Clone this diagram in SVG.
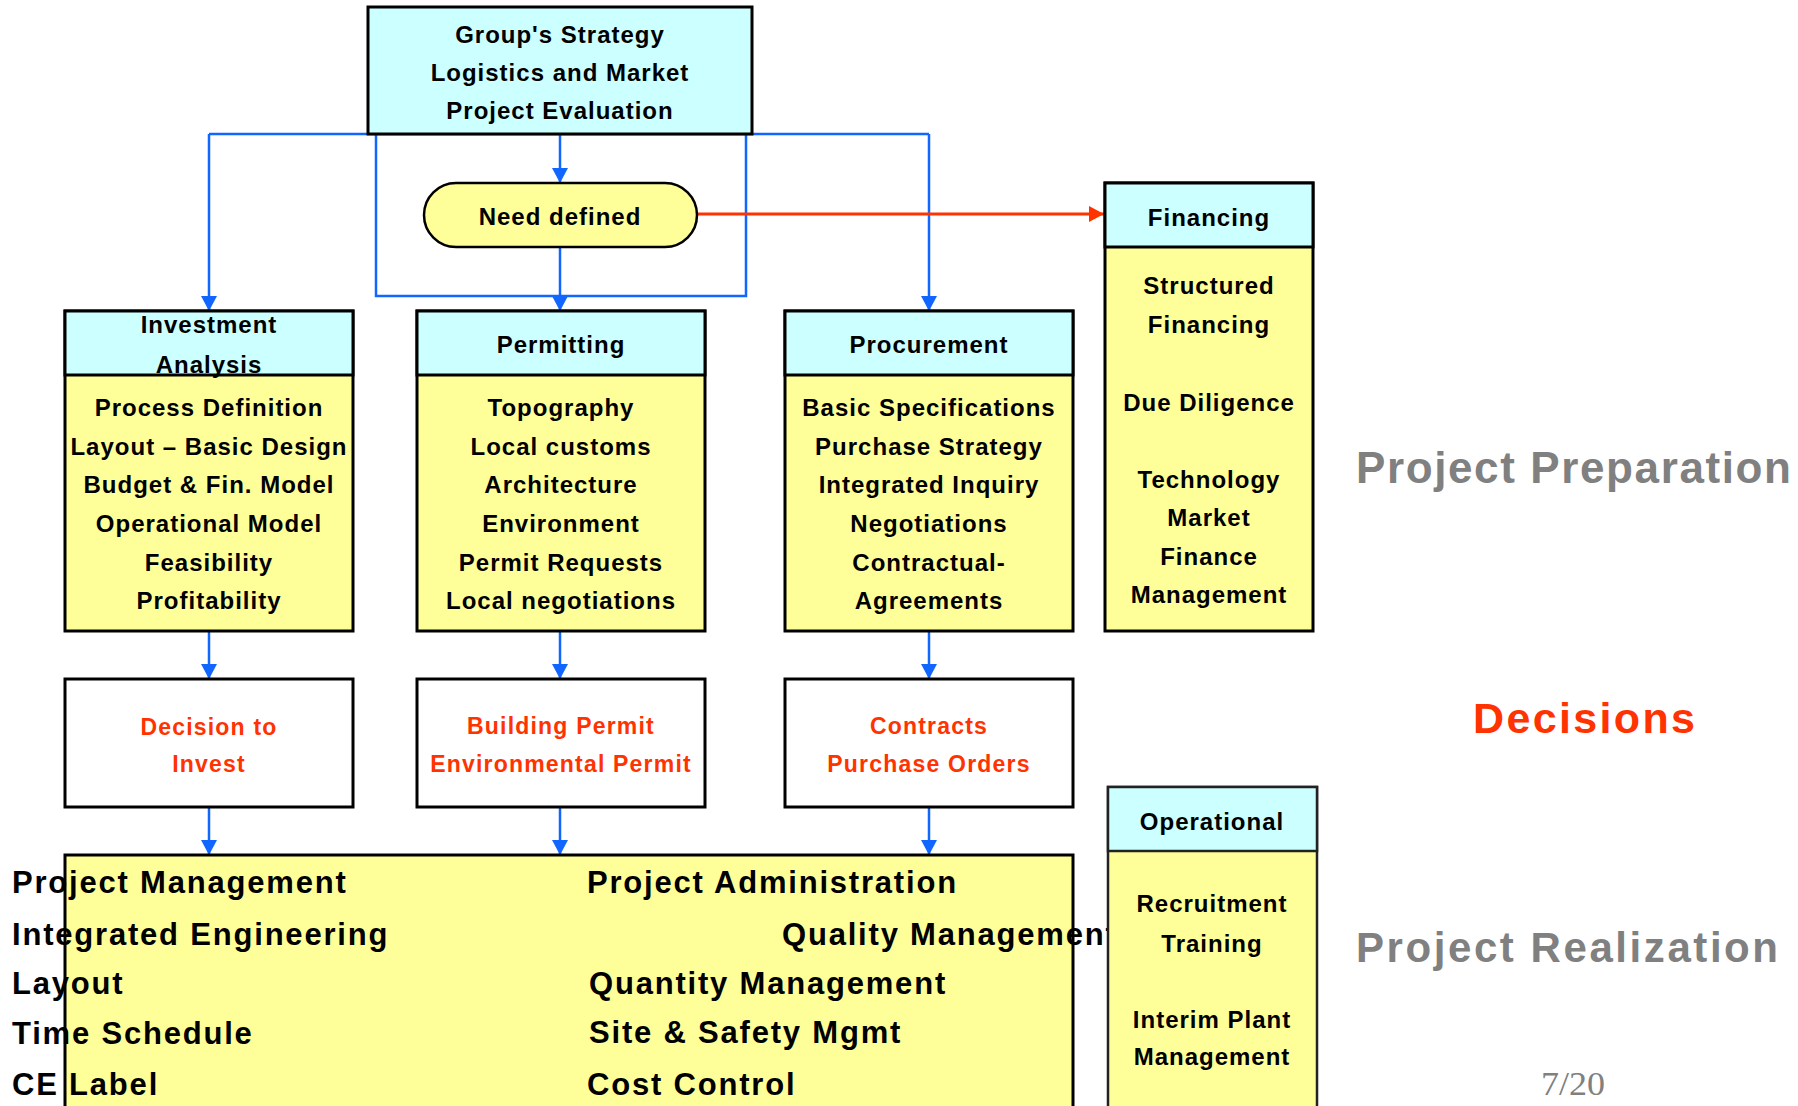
<svg xmlns="http://www.w3.org/2000/svg" width="1798" height="1106" viewBox="0 0 1798 1106">
<defs>
<style>
.hd{fill:#CCFFFF;stroke:#000;stroke-width:3}
.bd{fill:#FFFF99;stroke:#000;stroke-width:3}
.wb{fill:#FFFFFF;stroke:#000;stroke-width:3}
text{font-family:"Liberation Sans",Arial,sans-serif;font-weight:bold;fill:#000}
.t{font-size:24px;letter-spacing:1px;text-anchor:middle}
.r{font-size:23px;letter-spacing:1.2px;text-anchor:middle;fill:#FF3300}
.big{font-size:31px;letter-spacing:1.8px}
.side{font-size:44px;fill:#808080}
.blue{fill:none;stroke:#1166FF;stroke-width:2.5}
.red{fill:none;stroke:#FF3300;stroke-width:3}
</style>
<marker id="ab" markerUnits="userSpaceOnUse" markerWidth="16" markerHeight="16" refX="15" refY="8" orient="auto"><path d="M0,0 L15,8 L0,16 Z" fill="#1166FF"/></marker>
<marker id="ar" markerUnits="userSpaceOnUse" markerWidth="16" markerHeight="18" refX="15" refY="9" orient="auto"><path d="M0,1 L15,9 L0,17 Z" fill="#FF3300"/></marker>
</defs>

<g id="connectors">
<path class="blue" d="M209,134 L929,134"/>
<path class="blue" d="M376,134 L376,296 L746,296 L746,134"/>
<path class="blue" d="M560,134 L560,183" marker-end="url(#ab)"/>
<path class="blue" d="M560,247 L560,311" marker-end="url(#ab)"/>
<path class="blue" d="M209,134 L209,311" marker-end="url(#ab)"/>
<path class="blue" d="M929,134 L929,311" marker-end="url(#ab)"/>
<path class="blue" d="M209,631 L209,679" marker-end="url(#ab)"/>
<path class="blue" d="M560,631 L560,679" marker-end="url(#ab)"/>
<path class="blue" d="M929,631 L929,679" marker-end="url(#ab)"/>
<path class="blue" d="M209,807 L209,855" marker-end="url(#ab)"/>
<path class="blue" d="M560,807 L560,855" marker-end="url(#ab)"/>
<path class="blue" d="M929,807 L929,855" marker-end="url(#ab)"/>
<path class="red" d="M689,214 L1104,214" marker-end="url(#ar)"/>
</g>

<g id="strategy">
<rect class="hd" x="368" y="7" width="384" height="127"/>
<text class="t" x="560" y="43">Group's Strategy</text>
<text class="t" x="560" y="81">Logistics and Market</text>
<text class="t" x="560" y="119">Project Evaluation</text>
</g>

<g id="need">
<rect x="424" y="183" width="273" height="64" rx="32" ry="32" fill="#FFFF99" stroke="#000" stroke-width="2.5"/>
<text class="t" x="560" y="225">Need defined</text>
</g>

<g id="investment">
<rect class="bd" x="65" y="311" width="288" height="320"/>
<rect class="hd" x="65" y="311" width="288" height="64"/>
<text class="t" x="209" y="333">Investment</text>
<text class="t" x="209" y="373">Analysis</text>
<text class="t" x="209" y="416">Process Definition</text>
<text class="t" x="209" y="455">Layout – Basic Design</text>
<text class="t" x="209" y="493">Budget &amp; Fin. Model</text>
<text class="t" x="209" y="532">Operational Model</text>
<text class="t" x="209" y="571">Feasibility</text>
<text class="t" x="209" y="609">Profitability</text>
</g>

<g id="permitting">
<rect class="bd" x="417" y="311" width="288" height="320"/>
<rect class="hd" x="417" y="311" width="288" height="64"/>
<text class="t" x="561" y="353">Permitting</text>
<text class="t" x="561" y="416">Topography</text>
<text class="t" x="561" y="455">Local customs</text>
<text class="t" x="561" y="493">Architecture</text>
<text class="t" x="561" y="532">Environment</text>
<text class="t" x="561" y="571">Permit Requests</text>
<text class="t" x="561" y="609">Local negotiations</text>
</g>

<g id="procurement">
<rect class="bd" x="785" y="311" width="288" height="320"/>
<rect class="hd" x="785" y="311" width="288" height="64"/>
<text class="t" x="929" y="353">Procurement</text>
<text class="t" x="929" y="416">Basic Specifications</text>
<text class="t" x="929" y="455">Purchase Strategy</text>
<text class="t" x="929" y="493">Integrated Inquiry</text>
<text class="t" x="929" y="532">Negotiations</text>
<text class="t" x="929" y="571">Contractual-</text>
<text class="t" x="929" y="609">Agreements</text>
</g>

<g id="financing">
<rect class="bd" x="1105" y="183" width="208" height="448"/>
<rect class="hd" x="1105" y="183" width="208" height="64"/>
<text class="t" x="1209" y="226">Financing</text>
<text class="t" x="1209" y="294">Structured</text>
<text class="t" x="1209" y="333">Financing</text>
<text class="t" x="1209" y="411">Due Diligence</text>
<text class="t" x="1209" y="488">Technology</text>
<text class="t" x="1209" y="526">Market</text>
<text class="t" x="1209" y="565">Finance</text>
<text class="t" x="1209" y="603">Management</text>
</g>

<g id="decision-invest">
<rect class="wb" x="65" y="679" width="288" height="128"/>
<text class="r" x="209" y="735">Decision to</text>
<text class="r" x="209" y="772">Invest</text>
</g>

<g id="decision-permit">
<rect class="wb" x="417" y="679" width="288" height="128"/>
<text class="r" x="561" y="734">Building Permit</text>
<text class="r" x="561" y="772">Environmental Permit</text>
</g>

<g id="decision-contracts">
<rect class="wb" x="785" y="679" width="288" height="128"/>
<text class="r" x="929" y="734">Contracts</text>
<text class="r" x="929" y="772">Purchase Orders</text>
</g>

<g id="realization">
<rect class="bd" x="65" y="855" width="1008" height="260"/>
<text class="big" x="12" y="893">Project Management</text>
<text class="big" x="12" y="945">Integrated Engineering</text>
<text class="big" x="12" y="994">Layout</text>
<text class="big" x="12" y="1044">Time Schedule</text>
<text class="big" x="12" y="1095">CE Label</text>
<text class="big" x="587" y="893">Project Administration</text>
<text class="big" x="782" y="945">Quality Management</text>
<text class="big" x="589" y="994">Quantity Management</text>
<text class="big" x="589" y="1043">Site &amp; Safety Mgmt</text>
<text class="big" x="587" y="1095">Cost Control</text>
</g>

<g id="operational">
<rect x="1108" y="787" width="209" height="330" fill="#FFFF99" stroke="#222" stroke-width="2.5"/>
<rect x="1108" y="787" width="209" height="64" fill="#CCFFFF" stroke="#222" stroke-width="2.5"/>
<text class="t" x="1212" y="830">Operational</text>
<text class="t" x="1212" y="912">Recruitment</text>
<text class="t" x="1212" y="952">Training</text>
<text class="t" x="1212" y="1028">Interim Plant</text>
<text class="t" x="1212" y="1065">Management</text>
</g>

<g id="labels">
<text class="side" x="1356" y="483" textLength="435" lengthAdjust="spacing">Project Preparation</text>
<text x="1473" y="733" font-size="43" fill="#FF3300" style="fill:#FF3300" textLength="222" lengthAdjust="spacing">Decisions</text>
<text class="side" x="1356" y="962" font-size="42" style="font-size:42px" textLength="422" lengthAdjust="spacing">Project Realization</text>
<text x="1541" y="1095" style="font-family:'Liberation Serif','Times New Roman',serif;font-weight:normal;font-size:34px;fill:#808080" textLength="64" lengthAdjust="spacingAndGlyphs">7/20</text>
</g>
</svg>
